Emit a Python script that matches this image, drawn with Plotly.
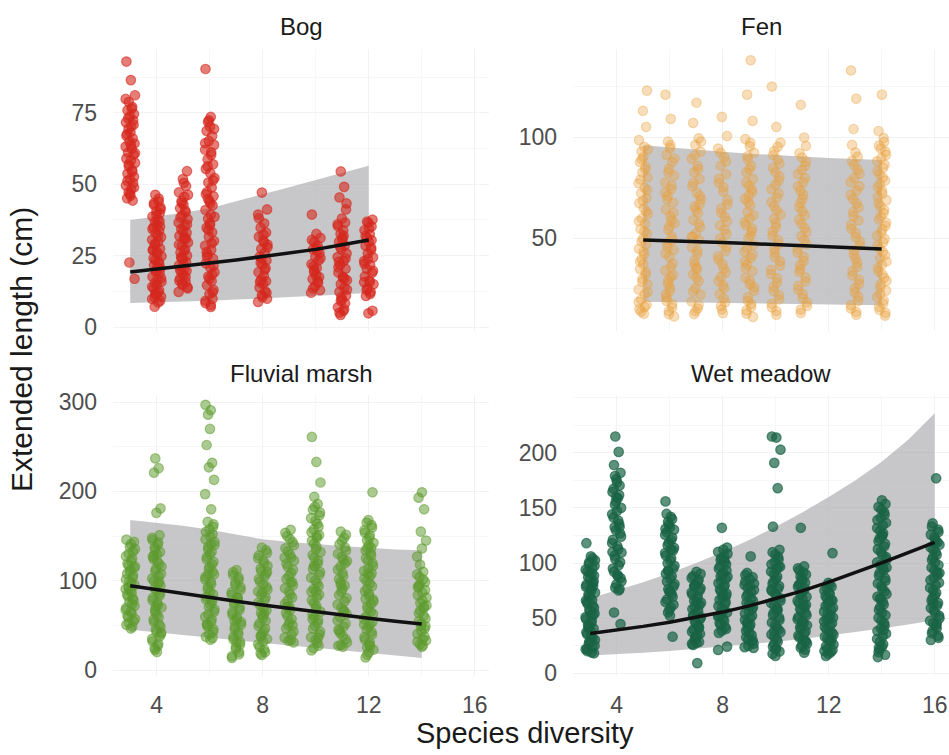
import plotly.graph_objects as go

# ---------------- data ----------------
# Extended length (cm) of individual plants, grouped by species diversity of the plot
BOG_LEVELS = [3, 4, 5, 6, 8, 10, 11, 12]
BOG_LENGTHS = [
    [93.0, 86.5, 81.2, 78.8, 77.1, 75.9, 74.6, 73.8, 72.4, 71.7, 70.3, 69.5, 68.2, 67.6, 66.1, 65.0, 64.3, 63.2, 62.5, 61.1,
     60.4, 59.0, 58.3, 57.5, 56.2, 55.0, 53.7, 52.6, 51.8, 50.4, 49.6, 48.3, 47.2, 46.0, 45.1, 44.3, 22.6, 16.9,
     79.9, 76.5, 73.1, 70.9, 67.0, 63.8, 60.9, 57.0, 54.4, 51.2, 48.9, 46.6],
    [46.3, 44.0, 42.8, 41.9, 40.6, 39.8, 38.7, 37.5, 36.8, 35.6, 34.9, 33.7, 32.8, 31.5, 30.6, 29.8, 28.7, 27.5, 26.9, 25.6,
     24.8, 23.5, 22.9, 21.7, 20.6, 19.8, 18.9, 17.6, 16.8, 15.5, 14.9, 13.6, 12.8, 11.5, 10.7, 9.8, 8.6, 7.1, 35.2, 27.1,
     21.0, 15.9, 11.8, 45.0, 43.4, 41.2, 39.3, 37.0, 34.3, 31.9, 29.2, 26.3, 24.1, 22.2, 19.4, 17.1, 14.1, 12.2, 10.3, 9.2],
    [54.6, 51.8, 49.4, 47.2, 45.6, 44.1, 42.9, 41.6, 40.2, 39.1, 37.8, 36.6, 35.5, 34.3, 33.0, 31.9, 30.8, 29.6, 28.5, 27.3,
     26.1, 25.0, 23.8, 22.7, 21.5, 20.4, 19.2, 18.1, 17.0, 15.8, 14.7, 13.5, 12.3, 31.4, 24.4, 19.7, 16.2,
     50.5, 46.3, 43.5, 40.8, 38.4, 35.9, 33.6, 31.0, 28.9, 26.7, 24.1, 21.9, 19.9, 17.5, 15.2, 13.9],
    [90.4, 73.6, 71.8, 70.2, 68.7, 66.9, 65.2, 63.8, 62.1, 60.3, 58.8, 57.0, 55.4, 53.9, 52.2, 50.6, 48.9, 47.3, 45.8, 44.1,
     42.6, 41.0, 39.4, 37.9, 36.3, 34.8, 33.2, 31.6, 30.1, 28.5, 27.0, 25.4, 23.9, 22.3, 20.8, 19.2, 17.7, 16.1, 14.6, 13.0,
     11.5, 9.9, 8.4, 7.0, 44.9, 35.7, 26.2, 18.4, 72.4, 69.4, 64.4, 61.2, 56.3, 51.4, 46.5, 43.3, 38.6, 34.0, 29.3, 24.6,
     21.5, 16.9, 12.2, 9.2, 7.7],
    [47.1, 41.2, 39.4, 36.3, 34.8, 33.1, 31.6, 30.2, 28.9, 27.4, 26.0, 24.7, 23.3, 21.9, 20.6, 19.2, 17.9, 16.5, 15.2, 13.8,
     12.5, 11.1, 9.9, 8.8, 29.6, 22.5, 16.0, 38.1, 32.4, 27.9, 24.0, 20.0, 15.8, 12.0, 10.4],
    [39.4, 32.6, 31.2, 29.9, 28.5, 27.2, 25.9, 24.6, 23.3, 22.0, 20.7, 19.4, 18.1, 16.8, 15.5, 14.2, 12.9, 12.0, 26.7, 21.3,
     17.5, 30.5, 27.8, 24.1, 20.0, 16.1, 13.5],
    [54.5, 49.1, 45.4, 41.2, 38.0, 36.6, 35.3, 33.9, 32.6, 31.2, 29.9, 28.5, 27.2, 25.8, 24.5, 23.1, 21.8, 20.4, 19.1, 17.7,
     16.4, 15.0, 13.7, 12.3, 11.0, 9.6, 8.3, 6.9, 5.6, 4.2, 30.6, 22.9, 16.8, 10.4, 43.3, 36.0, 32.0, 28.0, 24.0, 20.9,
     17.2, 13.1, 9.1, 6.2, 5.0],
    [37.6, 36.5, 35.2, 33.9, 32.5, 31.2, 29.8, 28.5, 27.1, 25.8, 24.4, 23.1, 21.7, 20.4, 19.0, 17.7, 16.3, 15.0, 13.6, 12.3,
     10.9, 5.7, 4.8, 30.4, 22.2, 15.8, 36.9, 34.6, 31.9, 27.8, 23.8, 19.7, 15.7, 11.6, 13.0],
]
BOG_FIT_X = [3, 4, 5, 6, 7, 8, 9, 10, 11, 12]
BOG_FIT = [19.3, 20.3, 21.3, 22.4, 23.5, 24.7, 25.9, 27.2, 28.8, 30.5]
BOG_LO = [8.4, 8.6, 8.9, 9.2, 9.6, 10.0, 10.4, 10.9, 11.4, 12.0]
BOG_HI = [37.5, 38.8, 40.0, 41.6, 44.0, 46.5, 49.0, 51.5, 54.0, 56.5]

FEN_LEVELS = [5, 6, 7, 8, 9, 10, 11, 13, 14]
FEN_LENGTHS = [
    [123, 113, 105, 98.5, 95.2, 92.8, 90.1, 87.6, 85.3, 82.4, 80.0, 77.1, 74.9, 72.2, 69.8, 67.3, 64.6, 62.0, 59.7, 57.1,
     54.5, 52.2, 49.6, 47.0, 44.7, 42.1, 39.5, 37.2, 34.6, 32.0, 29.7, 27.1, 24.5, 22.2, 19.6, 17.0, 14.8, 12.5,
     93.9, 89.0, 84.1, 79.0, 73.8, 68.5, 63.2, 58.4, 53.3, 48.3, 43.4, 38.3, 33.3, 28.4, 23.3, 18.3, 15.9, 13.6],
    [121, 109, 97.8, 94.5, 91.2, 87.6, 84.3, 80.9, 77.6, 74.2, 70.9, 67.5, 64.2, 60.8, 57.5, 54.1, 50.8, 47.4, 44.1, 40.7,
     37.4, 34.0, 30.7, 27.3, 24.0, 20.6, 17.3, 13.9, 11.2, 72.6, 58.7, 45.3, 31.8, 22.1,
     95.9, 89.4, 82.6, 76.0, 69.2, 62.5, 55.8, 49.1, 42.4, 35.7, 29.0, 25.6, 18.9, 15.6, 12.3],
    [117, 107, 99.4, 96.1, 92.7, 89.3, 85.8, 82.6, 79.2, 75.7, 72.5, 69.1, 65.6, 62.4, 59.0, 55.5, 52.3, 48.9, 45.4, 42.2,
     38.8, 35.3, 32.1, 28.7, 25.2, 22.0, 18.6, 15.1, 12.4, 66.8, 50.6, 34.5,
     97.8, 91.0, 84.2, 77.4, 70.8, 64.0, 57.2, 50.6, 43.8, 37.0, 30.4, 23.6, 16.8, 13.8],
    [110, 100.5, 94.3, 90.1, 85.8, 81.6, 77.4, 73.1, 68.9, 64.7, 60.4, 56.2, 52.0, 47.7, 43.5, 39.3, 35.0, 30.8, 26.6, 22.3,
     18.1, 14.6, 58.3, 41.0, 25.2, 92.2, 87.9, 79.5, 75.2, 66.8, 62.5, 54.1, 49.8, 45.6, 37.1, 32.9, 28.7, 20.2, 16.4, 12.8],
    [138, 121, 108, 99.0, 95.4, 92.2, 88.9, 85.7, 82.4, 79.2, 75.9, 72.7, 69.4, 66.2, 62.9, 59.7, 56.4, 53.2, 49.9, 46.7,
     43.4, 40.2, 36.9, 33.7, 30.4, 27.2, 23.9, 20.7, 17.4, 14.2, 11.0, 71.1, 54.8, 38.5,
     97.2, 90.5, 84.1, 77.6, 74.3, 67.8, 61.3, 57.9, 51.5, 45.1, 41.8, 35.3, 28.8, 25.6, 19.0, 15.8, 12.6],
    [125, 105, 97.3, 93.1, 88.9, 84.7, 80.5, 76.3, 72.1, 67.9, 63.7, 59.5, 55.3, 51.1, 46.9, 42.7, 38.5, 34.3, 30.1, 25.9,
     21.7, 17.5, 13.9, 61.6, 44.8, 95.2, 91.0, 86.8, 82.6, 78.4, 74.2, 70.0, 65.8, 57.4, 53.2, 49.0, 40.6, 36.4, 32.2,
     28.0, 23.8, 19.6, 15.7, 12.0],
    [116, 99.8, 92.0, 87.9, 83.8, 79.7, 75.6, 71.5, 67.4, 63.3, 59.2, 55.1, 51.0, 46.9, 42.8, 38.7, 34.6, 30.5, 26.4, 22.3,
     18.2, 14.6, 49.0, 33.1, 95.6, 89.9, 85.8, 81.7, 77.6, 73.5, 69.4, 65.3, 61.2, 57.1, 53.0, 44.8, 40.7, 36.6, 28.5,
     24.4, 20.2, 16.4, 12.9],
    [133, 119, 104, 92.4, 88.2, 84.0, 79.8, 75.6, 71.4, 67.2, 63.0, 58.8, 54.6, 50.4, 46.2, 42.0, 37.8, 33.6, 29.4, 25.2,
     21.0, 16.8, 13.5, 60.9, 39.9, 96.1, 90.3, 86.1, 81.9, 77.7, 73.5, 69.3, 65.1, 56.7, 52.5, 48.3, 44.1, 35.7, 31.5,
     27.3, 23.1, 18.9, 15.1, 12.0],
    [121, 103, 97.6, 94.4, 91.2, 88.0, 84.8, 81.6, 78.4, 75.2, 72.0, 68.8, 65.6, 62.4, 59.2, 56.0, 52.8, 49.6, 46.4, 43.2,
     40.0, 36.8, 33.6, 30.4, 27.2, 24.0, 20.8, 17.6, 14.4, 11.6, 70.4, 54.4, 38.4, 22.4,
     99.5, 95.8, 92.8, 89.6, 86.4, 83.2, 80.0, 76.8, 73.6, 67.2, 64.0, 60.8, 57.6, 51.2, 48.0, 44.8, 41.6, 35.2, 32.0,
     28.8, 25.6, 19.2, 16.0, 13.0],
]
FEN_FIT_X = [5, 6, 7, 8, 9, 10, 11, 12, 13, 14]
FEN_FIT = [49.0, 48.7, 48.2, 47.8, 47.3, 46.8, 46.3, 45.8, 45.2, 44.6]
FEN_LO = [18.5, 18.3, 18.1, 17.9, 17.7, 17.5, 17.3, 17.1, 16.9, 16.7]
FEN_HI = [96.0, 94.8, 93.7, 92.7, 91.8, 91.0, 90.2, 89.6, 89.1, 88.6]

FLUV_LEVELS = [3, 4, 6, 7, 8, 9, 10, 11, 12, 14]
FLUV_LENGTHS = [
    [146, 141, 135.5, 130.2, 124.8, 119.3, 114.6, 110.1, 105.7, 101.4, 97.2, 93.0, 88.7, 84.5, 80.3, 76.0, 71.8, 67.5, 63.3,
     59.1, 54.8, 50.6, 46.4, 116, 92, 74, 61, 143.5, 138.0, 132.8, 127.5, 122.0, 117.0, 112.3, 107.9, 103.5, 99.3, 95.1,
     90.8, 86.6, 82.4, 78.1, 69.7, 65.4, 57.0, 52.7, 48.5],
    [237, 226, 221, 181, 176, 151, 145.6, 140.2, 134.8, 129.4, 124.0, 118.6, 113.2, 107.8, 102.4, 97.0, 91.6, 86.2, 80.8,
     75.4, 70.0, 64.6, 59.2, 53.8, 48.4, 43.0, 37.6, 32.2, 26.8, 22.4, 20.1, 128, 99, 71, 42,
     148.0, 142.9, 137.5, 132.1, 126.7, 121.3, 115.9, 110.5, 105.1, 99.7, 94.3, 88.9, 83.5, 78.1, 72.7, 67.3, 61.9, 56.5,
     51.1, 45.7, 40.3, 34.9, 29.5, 24.6],
    [297, 291, 286, 270, 252, 232, 227, 213, 197, 180, 166, 160.4, 154.8, 149.2, 143.6, 138.0, 132.4, 126.8, 121.2, 115.6,
     110.0, 104.4, 98.8, 93.2, 87.6, 82.0, 76.4, 70.8, 65.2, 59.6, 54.0, 48.4, 42.8, 37.2, 34.0, 140, 107, 79, 51,
     163.2, 157.6, 152.0, 146.4, 140.8, 135.2, 129.6, 124.0, 118.4, 112.8, 107.2, 101.6, 96.0, 90.4, 84.8, 79.2, 73.6,
     68.0, 62.4, 56.8, 51.2, 45.6, 40.0, 36.0],
    [112, 106.4, 100.9, 95.3, 89.8, 84.2, 78.7, 73.1, 67.6, 62.0, 56.5, 50.9, 45.4, 39.8, 34.3, 28.7, 23.2, 17.6, 13.5, 81,
     55, 31, 109.6, 103.7, 98.1, 92.6, 87.0, 81.5, 75.9, 70.4, 64.8, 59.3, 53.7, 48.2, 42.6, 37.1, 31.5, 26.0, 20.4, 15.5],
    [137, 131.2, 125.3, 119.5, 113.6, 107.8, 101.9, 96.1, 90.2, 84.4, 78.5, 72.7, 66.8, 61.0, 55.1, 49.3, 43.4, 37.6, 31.7,
     25.9, 20.0, 16.8, 110, 88, 63, 38, 134.1, 128.3, 122.4, 116.6, 110.7, 104.9, 99.0, 93.2, 87.3, 81.5, 75.6, 69.8,
     63.9, 58.1, 52.2, 46.4, 40.5, 34.7, 28.8, 23.0, 18.5],
    [157, 150.1, 143.2, 136.3, 129.4, 122.5, 115.6, 108.7, 101.8, 94.9, 88.0, 81.1, 74.2, 67.3, 60.4, 53.5, 46.6, 39.7, 32.8,
     30.9, 126, 98, 71, 50, 153.6, 146.7, 139.8, 132.9, 126.0, 119.1, 112.2, 105.3, 98.4, 91.5, 84.6, 77.7, 70.8, 63.9,
     57.0, 50.1, 43.2, 36.3, 33.5],
    [261, 233, 210, 194, 186, 179.6, 173.3, 166.9, 160.6, 154.2, 147.9, 141.5, 135.2, 128.8, 122.5, 116.1, 109.8, 103.4,
     97.1, 90.7, 84.4, 78.0, 71.7, 65.3, 59.0, 52.6, 46.3, 39.9, 33.6, 27.2, 22.0, 150, 117, 88, 57, 36,
     182.8, 176.5, 170.1, 163.8, 157.4, 151.1, 144.7, 138.4, 132.0, 125.7, 119.3, 113.0, 106.6, 100.3, 93.9, 87.6, 81.2,
     74.9, 68.5, 62.2, 55.8, 49.5, 43.1, 36.8, 30.4, 24.6],
    [155, 147.9, 140.8, 133.7, 126.6, 119.5, 112.4, 105.3, 98.2, 91.1, 84.0, 76.9, 69.8, 62.7, 55.6, 48.5, 41.4, 34.3, 27.2,
     26.0, 122, 95, 66, 44, 151.5, 144.4, 137.3, 130.2, 123.1, 116.0, 108.9, 101.8, 94.7, 87.6, 80.5, 73.4, 66.3, 59.2,
     52.1, 45.0, 37.9, 30.8, 28.0],
    [199, 168, 162.3, 156.6, 150.9, 145.2, 139.5, 133.8, 128.1, 122.4, 116.7, 111.0, 105.3, 99.6, 93.9, 88.2, 82.5, 76.8,
     71.1, 65.4, 59.7, 54.0, 48.3, 42.6, 36.9, 31.2, 25.5, 19.8, 14.1, 137, 108, 79, 51, 27,
     165.2, 159.5, 153.8, 148.1, 142.4, 136.7, 131.0, 125.3, 119.6, 113.9, 108.2, 102.5, 96.8, 91.1, 85.4, 79.7, 74.0,
     68.3, 62.6, 56.9, 51.2, 45.5, 39.8, 34.1, 28.4, 22.7, 17.0],
    [199, 193, 180, 155, 145, 127, 110, 104.2, 98.4, 92.6, 86.8, 81.0, 75.2, 69.4, 63.6, 57.8, 52.0, 46.2, 40.4, 34.6, 28.8,
     26.0, 94, 71, 49, 33, 107.1, 101.3, 95.5, 89.7, 83.9, 78.1, 72.3, 66.5, 60.7, 54.9, 49.1, 43.3, 37.5, 31.7, 27.5,
     118, 136],
]
FLUV_FIT_X = [3, 4, 5, 6, 7, 8, 9, 10, 11, 12, 13, 14]
FLUV_FIT = [94.4, 89.8, 85.4, 81.1, 76.9, 72.8, 68.9, 65.1, 61.5, 58.0, 54.7, 51.5]
FLUV_LO = [45.0, 42.0, 39.0, 36.0, 33.0, 30.0, 27.5, 25.0, 22.0, 19.0, 16.0, 13.5]
FLUV_HI = [168.0, 164.5, 161.5, 157.0, 151.5, 146.5, 143.5, 141.0, 139.0, 137.0, 135.0, 134.0]

WET_LEVELS = [3, 4, 6, 7, 8, 9, 10, 11, 12, 14, 16]
WET_LENGTHS = [
    [118, 106, 102.5, 99.1, 95.6, 92.2, 88.7, 85.3, 81.8, 78.4, 74.9, 71.5, 68.0, 64.6, 61.1, 57.7, 54.2, 50.8, 47.3, 43.9,
     40.4, 37.0, 33.5, 30.1, 26.6, 23.2, 19.8, 17.9, 91, 79, 66, 53, 41, 29, 22,
     104.3, 100.8, 97.4, 93.9, 90.5, 87.0, 83.6, 80.1, 76.7, 73.2, 69.8, 66.3, 62.9, 59.4, 56.0, 52.5, 49.1, 45.6, 42.2,
     38.7, 35.3, 31.8, 28.4, 24.9, 21.5, 18.6],
    [215, 201, 189, 182, 176.2, 170.4, 164.6, 158.8, 153.0, 147.2, 141.4, 135.6, 129.8, 124.0, 118.2, 112.4, 106.6, 100.8,
     95.0, 89.2, 83.4, 77.6, 75.0, 55.0, 44.5, 160, 133, 110, 88,
     179.1, 173.3, 167.5, 161.7, 155.9, 150.1, 144.3, 138.5, 132.7, 126.9, 121.1, 115.3, 109.5, 103.7, 97.9, 92.1, 86.3,
     80.5, 76.3],
    [156, 142, 137.3, 132.6, 127.9, 123.2, 118.5, 113.8, 109.1, 104.4, 99.7, 95.0, 90.3, 85.6, 80.9, 76.2, 71.5, 66.8, 62.1,
     57.4, 33.0, 131, 112, 93, 74, 144.6, 139.9, 135.0, 130.3, 125.6, 120.9, 116.2, 111.5, 106.8, 102.1, 97.4, 92.7, 88.0,
     83.3, 78.6, 73.9, 69.2, 64.5, 59.8, 55.1, 52.0],
    [92, 88.2, 84.5, 80.7, 77.0, 73.2, 69.5, 65.7, 62.0, 58.2, 54.5, 50.7, 47.0, 43.2, 39.5, 35.7, 32.0, 28.2, 26.5, 9.0, 79,
     64, 52, 41, 33, 90.1, 86.4, 82.6, 78.9, 75.1, 71.4, 67.6, 63.9, 60.1, 56.4, 52.6, 48.9, 45.1, 41.4, 37.6, 33.9, 30.1,
     27.3, 25.5],
    [132, 114, 110.2, 106.4, 102.6, 98.8, 95.0, 91.2, 87.4, 83.6, 79.8, 76.0, 72.2, 68.4, 64.6, 60.8, 57.0, 53.2, 49.4, 45.6,
     41.8, 38.5, 24.0, 21.0, 103, 88, 70, 52, 112.1, 108.3, 104.5, 100.7, 96.9, 93.1, 89.3, 85.5, 81.7, 77.9, 74.1, 70.3,
     66.5, 62.7, 58.9, 55.1, 51.3, 47.5, 43.7, 40.0, 36.5],
    [106, 91, 87.1, 83.2, 79.3, 75.4, 71.5, 67.6, 63.7, 59.8, 55.9, 52.0, 48.1, 44.2, 40.3, 36.4, 32.5, 28.6, 24.7, 22.8, 80,
     62, 45, 30, 89.0, 85.2, 81.3, 77.4, 73.5, 69.6, 65.7, 61.8, 57.9, 54.0, 50.1, 46.2, 42.3, 38.4, 34.5, 30.6, 26.7,
     23.5],
    [215, 214, 203, 191, 168, 133, 112, 107.6, 103.2, 98.8, 94.4, 90.0, 85.6, 81.2, 76.8, 72.4, 68.0, 63.6, 59.2, 54.8, 50.4,
     46.0, 41.6, 37.2, 32.8, 28.4, 24.0, 19.6, 15.5, 97, 76, 57, 38, 22, 109.8, 105.4, 101.0, 96.6, 92.2, 87.8, 83.4,
     79.0, 74.6, 70.2, 65.8, 61.4, 57.0, 52.6, 48.2, 43.8, 39.4, 35.0, 30.6, 26.2, 21.8, 17.5],
    [132, 97, 93.3, 89.6, 85.9, 82.2, 78.5, 74.8, 71.1, 67.4, 63.7, 60.0, 56.3, 52.6, 48.9, 45.2, 41.5, 37.8, 34.1, 30.4,
     26.7, 23.0, 18.5, 80, 62, 44, 29, 95.2, 91.5, 87.8, 84.1, 80.4, 76.7, 73.0, 69.3, 65.6, 61.9, 58.2, 54.5, 50.8, 47.1,
     43.4, 39.7, 36.0, 32.3, 28.6, 24.9, 21.2],
    [109, 82, 78.5, 75.0, 71.5, 68.0, 64.5, 61.0, 57.5, 54.0, 50.5, 47.0, 43.5, 40.0, 36.5, 33.0, 29.5, 26.0, 22.5, 19.0,
     15.5, 66, 49, 31, 20, 80.3, 76.8, 73.3, 69.8, 66.3, 62.8, 59.3, 55.8, 52.3, 48.8, 45.3, 41.8, 38.3, 34.8, 31.3, 27.8,
     24.3, 20.8, 17.3],
    [157, 151, 146.2, 141.4, 136.6, 131.8, 127.0, 122.2, 117.4, 112.6, 107.8, 103.0, 98.2, 93.4, 88.6, 83.8, 79.0, 74.2,
     69.4, 64.6, 59.8, 55.0, 50.2, 45.4, 40.6, 35.8, 31.0, 26.2, 21.4, 16.6, 14.5, 125, 96, 68, 39, 23,
     153.6, 148.6, 143.8, 139.0, 134.2, 129.4, 124.6, 119.8, 115.0, 110.2, 105.4, 100.6, 95.8, 91.0, 86.2, 81.4, 76.6,
     71.8, 67.0, 62.2, 57.4, 52.6, 47.8, 43.0, 38.2, 33.4, 28.6, 23.8, 19.0],
    [177, 136, 130.4, 125.8, 121.2, 116.6, 112.0, 107.4, 102.8, 98.2, 93.6, 89.0, 84.4, 79.8, 75.2, 70.6, 66.0, 61.4, 56.8,
     52.2, 47.6, 43.0, 38.4, 33.8, 30.0, 118, 91, 63, 45, 133.2, 128.1, 123.5, 118.9, 114.3, 109.7, 105.1, 100.5, 95.9,
     91.3, 86.7, 82.1, 77.5, 72.9, 68.3, 63.7, 59.1, 54.5, 49.9, 45.3, 40.7, 36.1, 32.0],
]
WET_FIT_X = [3, 4, 5, 6, 7, 8, 9, 10, 11, 12, 13, 14, 15, 16]
WET_FIT = [36.0, 39.0, 42.4, 46.2, 50.5, 55.4, 61.0, 67.4, 74.6, 82.6, 91.2, 100.2, 109.4, 118.8]
WET_LO = [16.0, 17.0, 18.5, 20.0, 22.0, 24.0, 26.0, 28.5, 31.0, 34.0, 37.0, 40.5, 44.0, 48.0]
WET_HI = [68.0, 75.0, 82.5, 91.0, 100.0, 110.0, 121.0, 133.0, 146.0, 160.0, 175.0, 192.0, 212.0, 236.0]

X_TICKS = [4, 8, 12, 16]
BOG_TICKS = [0, 25, 50, 75]
FEN_TICKS = [50, 100]
FLUV_TICKS = [0, 100, 200, 300]
WET_TICKS = [0, 50, 100, 150, 200]

# ---------------- styling ----------------
FONT = "Liberation Sans, Arial, sans-serif"
TICK_FONT = dict(family=FONT, size=23, color="#4d4d4d")
GRID = "#f2f2f2"
GRID_MINOR = "#f7f7f7"
RIBBON = "rgba(172,172,176,0.68)"
# horizontal jitter pattern (fraction of the half-width) applied within each column
JITTER = [0.05, -0.62, 0.48, -0.17, 0.86, -0.91, 0.29, -0.41, 0.67, -0.76,
          0.13, 0.95, -0.28, 0.39, -0.54, 0.75, -0.06, 0.57, -0.84, 0.21, -0.33]
JITTER_HALF = 0.19

LEFT = [113 / 949, 489 / 949]
RIGHT = [573 / 949, 1.0]
TOP = [1 - 331 / 755, 1 - 49 / 755]
BOTTOM = [1 - 676 / 755, 1 - 395 / 755]
X_RANGE = [2.35, 16.54]

panels = [
    dict(title="Bog", levels=BOG_LEVELS, lengths=BOG_LENGTHS, fx=BOG_FIT_X, fit=BOG_FIT, lo=BOG_LO, hi=BOG_HI,
         rgb=(214, 40, 30), alpha=0.6, ax="", xd=LEFT, yd=TOP, yr=[-1.4, 97.4], ticks=BOG_TICKS, bottom=False),
    dict(title="Fen", levels=FEN_LEVELS, lengths=FEN_LENGTHS, fx=FEN_FIT_X, fit=FEN_FIT, lo=FEN_LO, hi=FEN_HI,
         rgb=(233, 160, 60), alpha=0.36, ax="2", xd=RIGHT, yd=TOP, yr=[4.0, 143.6], ticks=FEN_TICKS, bottom=False),
    dict(title="Fluvial marsh", levels=FLUV_LEVELS, lengths=FLUV_LENGTHS, fx=FLUV_FIT_X, fit=FLUV_FIT, lo=FLUV_LO,
         hi=FLUV_HI, rgb=(94, 155, 46), alpha=0.52, ax="3", xd=LEFT, yd=BOTTOM, yr=[-6.7, 308], ticks=FLUV_TICKS,
         bottom=True),
    dict(title="Wet meadow", levels=WET_LEVELS, lengths=WET_LENGTHS, fx=WET_FIT_X, fit=WET_FIT, lo=WET_LO, hi=WET_HI,
         rgb=(25, 100, 70), alpha=0.70, ax="4", xd=RIGHT, yd=BOTTOM, yr=[-2.7, 252.7], ticks=WET_TICKS, bottom=True),
]

fig = go.Figure()
layout = dict(
    width=949, height=755, margin=dict(l=0, r=0, t=0, b=0, autoexpand=False),
    paper_bgcolor="white", plot_bgcolor="white", showlegend=False,
    font=dict(family=FONT, color="#1a1a1a"),
)
annotations = []

for p in panels:
    xref, yref = "x" + p["ax"], "y" + p["ax"]
    r, g, b = p["rgb"]
    rgba = f"rgba({r},{g},{b},{p['alpha']})"

    # prediction ribbon
    fig.add_trace(go.Scatter(x=p["fx"], y=p["lo"], mode="lines", line=dict(width=0, color=RIBBON),
                             xaxis=xref, yaxis=yref, hoverinfo="skip"))
    fig.add_trace(go.Scatter(x=p["fx"], y=p["hi"], mode="lines", line=dict(width=0, color=RIBBON),
                             fill="tonexty", fillcolor=RIBBON, xaxis=xref, yaxis=yref, hoverinfo="skip"))

    # jittered observations
    xs, ys = [], []
    for lvl, vals in zip(p["levels"], p["lengths"]):
        for i, v in enumerate(vals):
            xs.append(lvl + JITTER_HALF * JITTER[(i + lvl * 3) % len(JITTER)])
            ys.append(v)
    fig.add_trace(go.Scatter(x=xs, y=ys, mode="markers", xaxis=xref, yaxis=yref,
                             marker=dict(size=9.5, color=rgba, line=dict(width=1.2, color=rgba))))

    # fitted trend
    fig.add_trace(go.Scatter(x=p["fx"], y=p["fit"], mode="lines", line=dict(color="#111111", width=3.5),
                             xaxis=xref, yaxis=yref))

    layout["xaxis" + p["ax"]] = dict(
        domain=p["xd"], range=X_RANGE, anchor=yref, tickvals=X_TICKS, showticklabels=p["bottom"],
        tickfont=TICK_FONT, ticks="", ticklabelstandoff=13, showgrid=True, gridcolor=GRID, gridwidth=1,
        zeroline=False, showline=False, automargin=False,
        minor=dict(dtick=2, tick0=0, showgrid=True, gridcolor=GRID_MINOR, gridwidth=0.6),
    )
    step = p["ticks"][1] - p["ticks"][0]
    layout["yaxis" + p["ax"]] = dict(
        domain=p["yd"], range=p["yr"], anchor=xref, tickvals=p["ticks"], tickfont=TICK_FONT, ticks="",
        ticklabelstandoff=15, showgrid=True, gridcolor=GRID, gridwidth=1, zeroline=False, showline=False,
        automargin=False,
        minor=dict(dtick=step / 2, tick0=0, showgrid=True, gridcolor=GRID_MINOR, gridwidth=0.6),
    )

    # facet strip title
    annotations.append(dict(
        text=p["title"], xref="paper", yref="paper", x=sum(p["xd"]) / 2,
        y=p["yd"][1] + 22 / 755, xanchor="center", yanchor="middle", showarrow=False,
        font=dict(family=FONT, size=24, color="#1a1a1a"),
    ))

annotations.append(dict(text="Species diversity", xref="paper", yref="paper", x=525 / 949, y=1 - 733 / 755,
                        xanchor="center", yanchor="middle", showarrow=False,
                        font=dict(family=FONT, size=29, color="#1a1a1a")))
annotations.append(dict(text="Extended length (cm)", xref="paper", yref="paper", x=22 / 949, y=1 - 350 / 755,
                        xanchor="center", yanchor="middle", textangle=-90, showarrow=False,
                        font=dict(family=FONT, size=30, color="#1a1a1a")))
layout["annotations"] = annotations

fig.update_layout(**layout)
fig.write_html("out.html")
